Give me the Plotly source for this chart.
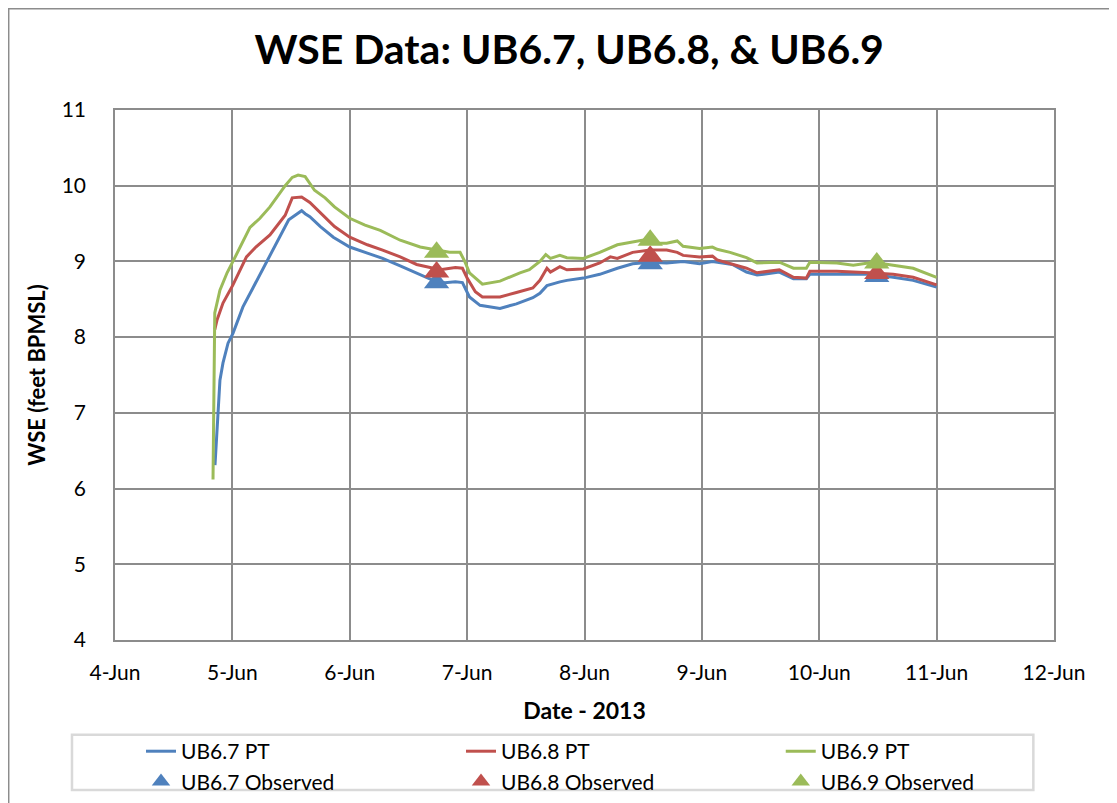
import pandas as pd
import plotly.graph_objects as go

# time as day-of-June (fractional), WSE in feet BPMSL
ub67_days = [4.852, 4.894, 4.92, 4.963, 5.005, 5.09, 5.175, 5.295, 5.40, 5.48, 5.59, 5.62, 5.66,
             5.75, 5.86, 6.0, 6.15, 6.28, 6.43, 6.57, 6.71, 6.81, 6.90, 6.96, 7.02, 7.11, 7.28,
             7.42, 7.56, 7.62, 7.68, 7.79, 7.85, 7.99, 8.13, 8.28, 8.41, 8.56, 8.70, 8.84, 8.98,
             9.09, 9.13, 9.26, 9.38, 9.47, 9.66, 9.78, 9.89, 9.92, 10.15, 10.43, 10.63, 10.80, 11.0]
ub67_wse = [6.31, 7.43, 7.66, 7.92, 8.05, 8.40, 8.65, 9.0, 9.32, 9.55, 9.67, 9.63, 9.59,
            9.46, 9.32, 9.19, 9.11, 9.04, 8.94, 8.85, 8.75, 8.72, 8.73, 8.72, 8.53, 8.42, 8.38,
            8.44, 8.52, 8.58, 8.68, 8.73, 8.75, 8.78, 8.83, 8.91, 8.97, 8.99, 8.98, 9.0, 8.97,
            9.0, 8.99, 8.96, 8.86, 8.82, 8.86, 8.77, 8.77, 8.83, 8.83, 8.83, 8.79, 8.75, 8.66]

ub68_days = [4.85, 4.87, 4.92, 5.005, 5.12, 5.20, 5.32, 5.45, 5.51, 5.59, 5.66, 5.75, 5.87,
             6.0, 6.15, 6.28, 6.43, 6.57, 6.71, 6.77, 6.90, 6.96, 7.0, 7.07, 7.13, 7.28, 7.42,
             7.56, 7.62, 7.68, 7.71, 7.79, 7.85, 7.99, 8.13, 8.22, 8.28, 8.41, 8.56, 8.70, 8.79,
             8.84, 8.98, 9.09, 9.13, 9.38, 9.47, 9.66, 9.78, 9.89, 9.92, 10.15, 10.43, 10.63,
             10.80, 11.0]
ub68_wse = [8.10, 8.23, 8.45, 8.69, 9.06, 9.19, 9.35, 9.61, 9.84, 9.85, 9.78, 9.64, 9.46,
            9.32, 9.22, 9.15, 9.06, 8.96, 8.91, 8.89, 8.92, 8.91, 8.78, 8.60, 8.53, 8.53, 8.59,
            8.65, 8.75, 8.91, 8.86, 8.93, 8.89, 8.90, 8.98, 9.06, 9.04, 9.12, 9.15, 9.15, 9.12,
            9.08, 9.06, 9.07, 9.02, 8.91, 8.85, 8.89, 8.79, 8.78, 8.87, 8.87, 8.85, 8.83,
            8.79, 8.69]

ub69_days = [4.835, 4.85, 4.894, 4.955, 5.005, 5.065, 5.15, 5.235, 5.32, 5.45, 5.51, 5.56, 5.62,
             5.70, 5.79, 5.87, 6.0, 6.13, 6.26, 6.43, 6.60, 6.74, 6.85, 6.94, 6.98, 7.02, 7.13,
             7.28, 7.45, 7.53, 7.62, 7.67, 7.71, 7.79, 7.85, 7.99, 8.13, 8.28, 8.41, 8.56, 8.62,
             8.70, 8.79, 8.84, 8.98, 9.09, 9.13, 9.24, 9.38, 9.47, 9.66, 9.78, 9.89, 9.92, 10.15,
             10.29, 10.46, 10.63, 10.80, 11.0]
ub69_wse = [6.12, 8.32, 8.62, 8.85, 9.0, 9.18, 9.45, 9.57, 9.72, 10.0, 10.11, 10.14, 10.12,
            9.94, 9.84, 9.72, 9.57, 9.48, 9.41, 9.28, 9.19, 9.15, 9.12, 9.12, 9.0, 8.85, 8.70,
            8.74, 8.85, 8.89, 9.0, 9.09, 9.04, 9.08, 9.05, 9.04, 9.12, 9.22, 9.26, 9.30, 9.24,
            9.24, 9.27, 9.20, 9.17, 9.19, 9.16, 9.12, 9.05, 8.98, 8.99, 8.91, 8.91, 8.99, 8.98,
            8.95, 8.99, 8.95, 8.91, 8.79]

obs_days = [6.74, 8.56, 10.49]
ub67_obs = [8.72, 8.97, 8.80]
ub68_obs = [8.86, 9.07, 8.84]
ub69_obs = [9.12, 9.28, 8.98]

blue, red, green = '#4F81BD', '#C0504D', '#9BBB59'
font = 'Lato, Calibri, Arial, sans-serif'

def to_time(days):
    return pd.Timestamp('2013-06-01') + pd.to_timedelta([d - 1 for d in days], unit='D')

# one legend per column so the rows line up like the Excel legend
series = [('UB6.7', ub67_days, ub67_wse, ub67_obs, blue, 'legend'),
          ('UB6.8', ub68_days, ub68_wse, ub68_obs, red, 'legend2'),
          ('UB6.9', ub69_days, ub69_wse, ub69_obs, green, 'legend3')]

fig = go.Figure()
for name, d, v, obs, c, lg in series:
    fig.add_trace(go.Scatter(x=to_time(d), y=v, mode='lines', name=name + ' PT',
                             line=dict(color=c, width=3), legend=lg))
for name, d, v, obs, c, lg in series:
    fig.add_trace(go.Scatter(x=to_time(obs_days), y=obs, mode='markers', name=name + ' Observed',
                             marker=dict(symbol='triangle-up', size=22, color=c), legend=lg))

grid = '#8c8c8c'
leg = dict(xanchor='left', yref='container', y=0.0905, yanchor='top', font=dict(size=21),
           bgcolor='rgba(0,0,0,0)', tracegroupgap=0, orientation='v')
# page body adds an 8px offset, so the figure is 8px smaller than the window
fig.update_layout(
    width=1109, height=795,
    margin=dict(l=107, r=63, t=102, b=163),
    paper_bgcolor='white', plot_bgcolor='white',
    font=dict(family=font, size=21, color='black'),
    title=dict(text='<b>WSE Data: UB6.7, UB6.8, & UB6.9</b>', x=0.506, xanchor='center',
               y=0.947, yanchor='middle', font=dict(size=41)),
    xaxis=dict(type='date', range=['2013-06-04', '2013-06-12'], dtick=86400000,
               tick0='2013-06-04', tickformat='%-d-%b', showgrid=True, gridcolor=grid,
               gridwidth=1.5, showline=True, linecolor=grid, linewidth=1.5, mirror=True,
               ticks='', ticklabelstandoff=13, zeroline=False,
               title=dict(text='<b>Date - 2013</b>', standoff=20, font=dict(size=23))),
    yaxis=dict(range=[4, 11], dtick=1, showgrid=True, gridcolor=grid, gridwidth=1.5,
               showline=True, linecolor=grid, linewidth=1.5, mirror=True, ticks='',
               ticklabelstandoff=23, zeroline=False,
               title=dict(text='<b>WSE (feet BPMSL)</b>', standoff=10, font=dict(size=22))),
    legend=dict(leg, x=0.0277),
    legend2=dict(leg, x=0.3685),
    legend3=dict(leg, x=0.709),
    showlegend=True,
)

# outer chart frame and legend box
fig.add_shape(type='rect', xref='paper', yref='paper', x0=-0.1132, x1=1.1, y0=-0.35, y1=1.191,
              line=dict(color='#8c8c8c', width=1.5), layer='below')
fig.add_shape(type='rect', xref='paper', yref='paper', x0=-0.0458, x1=0.978, y0=-0.283, y1=-0.179,
              line=dict(color='#d9d9d9', width=2.5), layer='below')

fig.write_html('out.html')
